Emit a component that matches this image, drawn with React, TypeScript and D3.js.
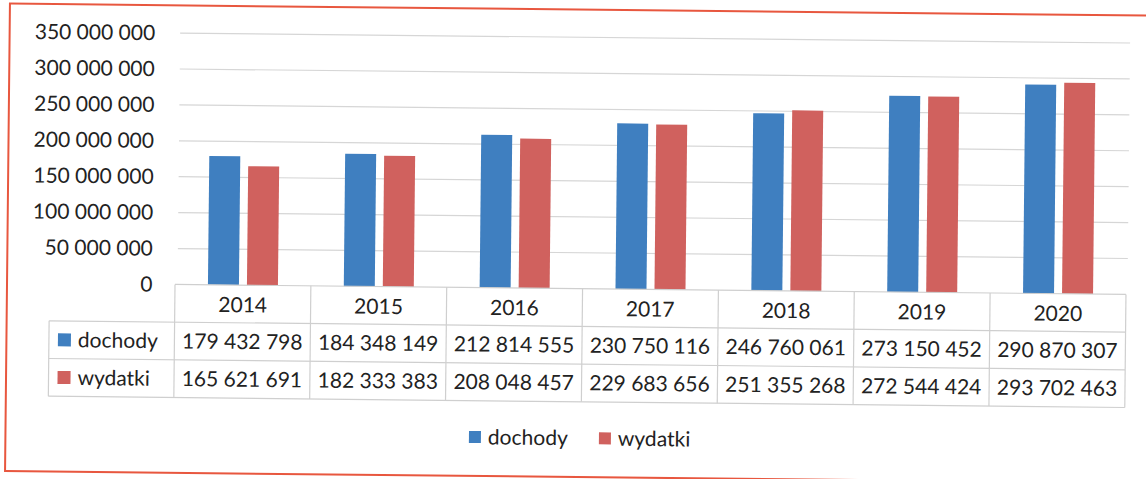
import React, { useRef, useEffect } from 'react';
import * as d3 from 'd3';

// data
const years = ['2014', '2015', '2016', '2017', '2018', '2019', '2020'];
const seriesNames = ['dochody', 'wydatki'];
const dochody = [179432798, 184348149, 212814555, 230750116, 246760061, 273150452, 290870307];
const wydatki = [165621691, 182333383, 208048457, 229683656, 251355268, 272544424, 293702463];
const yTicks = [0, 50000000, 100000000, 150000000, 200000000, 250000000, 300000000, 350000000];

const W = 1146;
const H = 479;

const colors: Record<string, string> = {
  dochody: '#3f7fc0',
  wydatki: '#d0615e'
};

// polish style number: spaces as thousands separator
const fmt = (v: number) => String(v).replace(/\B(?=(\d{3})+(?!\d))/g, ' ');

const App = () => {
  const svgRef = useRef<SVGSVGElement | null>(null);

  useEffect(() => {
    if (!svgRef.current) return;
    const svg = d3.select(svgRef.current);
    svg.selectAll('*').remove();

    const font = 'Lato, "Open Sans", sans-serif';
    const textColor = '#222222';
    const gridColor = '#d6d6d6';
    const tableColor = '#cfcfcf';

    // scan is slightly tilted
    const root = svg.append('g').attr('transform', 'rotate(0.6 573 240)');

    // red frame
    root.append('rect')
      .attr('x', 7.5)
      .attr('y', 9.5)
      .attr('width', 1160)
      .attr('height', 467.5)
      .attr('fill', 'none')
      .attr('stroke', '#e8573f')
      .attr('stroke-width', 2);

    const x0 = d3.scaleBand().domain(years).range([175.5, 1126.5]).paddingInner(0).paddingOuter(0);
    const bw = x0.bandwidth();
    const x1 = d3.scaleBand()
      .domain(seriesNames)
      .range([(bw - 70) / 2, (bw + 70) / 2])
      .paddingInner(0.205);
    const y = d3.scaleLinear().domain([0, 350000000]).range([288.6, 37.2]);

    // gridlines
    root.append('g')
      .selectAll('line')
      .data(yTicks.filter(t => t > 0))
      .enter()
      .append('line')
      .attr('x1', 178)
      .attr('x2', 1128)
      .attr('y1', d => y(d))
      .attr('y2', d => y(d))
      .attr('stroke', gridColor)
      .attr('stroke-width', 1.2);

    // y labels
    root.append('g')
      .selectAll('text')
      .data(yTicks)
      .enter()
      .append('text')
      .attr('x', 153)
      .attr('y', d => y(d))
      .attr('dy', '0.35em')
      .attr('text-anchor', 'end')
      .attr('font-family', font)
      .attr('font-size', '21px')
      .attr('fill', textColor)
      .text(d => fmt(d));

    // bars
    const values: Record<string, number[]> = { dochody, wydatki };
    const groups = root.append('g')
      .selectAll('g')
      .data(years)
      .enter()
      .append('g')
      .attr('transform', d => `translate(${x0(d)},0)`);

    groups.selectAll('rect')
      .data((d, i) => seriesNames.map(s => ({ s, v: values[s][i] })))
      .enter()
      .append('rect')
      .attr('x', d => x1(d.s) as number)
      .attr('width', x1.bandwidth())
      .attr('y', d => y(d.v))
      .attr('height', d => y(0) - y(d.v))
      .attr('fill', d => colors[d.s]);

    // data table
    const rowTop = y(0);
    const rowH = 37.7;
    const table = root.append('g');
    const tLeft = 50;
    const tRight = x0.range()[1];

    const hLines = [
      { x1: x0.range()[0], y: rowTop },
      { x1: tLeft, y: rowTop + rowH },
      { x1: tLeft, y: rowTop + rowH * 2 },
      { x1: tLeft, y: rowTop + rowH * 3 }
    ];
    table.selectAll('line.h')
      .data(hLines)
      .enter()
      .append('line')
      .attr('x1', d => d.x1)
      .attr('x2', tRight)
      .attr('y1', d => d.y)
      .attr('y2', d => d.y)
      .attr('stroke', tableColor)
      .attr('stroke-width', 1.2);

    const vXs = years.map(yr => x0(yr) as number).concat([tRight]);
    table.selectAll('line.v')
      .data(vXs)
      .enter()
      .append('line')
      .attr('x1', d => d)
      .attr('x2', d => d)
      .attr('y1', rowTop)
      .attr('y2', rowTop + rowH * 3)
      .attr('stroke', tableColor)
      .attr('stroke-width', 1.2);
    table.append('line')
      .attr('x1', tLeft)
      .attr('x2', tLeft)
      .attr('y1', rowTop + rowH)
      .attr('y2', rowTop + rowH * 3)
      .attr('stroke', tableColor)
      .attr('stroke-width', 1.2);

    // header years
    table.selectAll('text.year')
      .data(years)
      .enter()
      .append('text')
      .attr('x', d => (x0(d) as number) + bw / 2)
      .attr('y', rowTop + rowH / 2 + 1)
      .attr('dy', '0.35em')
      .attr('text-anchor', 'middle')
      .attr('font-family', font)
      .attr('font-size', '21px')
      .attr('fill', textColor)
      .text(d => d);

    seriesNames.forEach((s, si) => {
      const cy = rowTop + rowH * (si + 1) + rowH / 2;
      table.append('rect')
        .attr('x', 59)
        .attr('y', cy - 6.5)
        .attr('width', 13)
        .attr('height', 13)
        .attr('fill', colors[s]);
      table.append('text')
        .attr('x', 79)
        .attr('y', cy)
        .attr('dy', '0.35em')
        .attr('font-family', font)
        .attr('font-size', '21px')
        .attr('fill', textColor)
        .text(s);
      table.selectAll(`text.v${si}`)
        .data(values[s])
        .enter()
        .append('text')
        .attr('x', (d, i) => (x0(years[i]) as number) + bw / 2)
        .attr('y', cy)
        .attr('dy', '0.35em')
        .attr('text-anchor', 'middle')
        .attr('font-family', font)
        .attr('font-size', '21px')
        .attr('fill', textColor)
        .text(d => fmt(d));
    });

    // bottom legend
    const legendX = [471, 601];
    seriesNames.forEach((s, i) => {
      root.append('rect')
        .attr('x', legendX[i])
        .attr('y', 432)
        .attr('width', 12)
        .attr('height', 12)
        .attr('fill', colors[s]);
      root.append('text')
        .attr('x', legendX[i] + 19)
        .attr('y', 438)
        .attr('dy', '0.35em')
        .attr('font-family', font)
        .attr('font-size', '21px')
        .attr('fill', textColor)
        .text(s);
    });
  }, []);

  return (
    <div style={{ position: 'absolute', left: 0, top: 0, width: W, height: H, background: '#ffffff' }}>
      <svg ref={svgRef} width={W} height={H} style={{ display: 'block' }}></svg>
    </div>
  );
};

export default App;
